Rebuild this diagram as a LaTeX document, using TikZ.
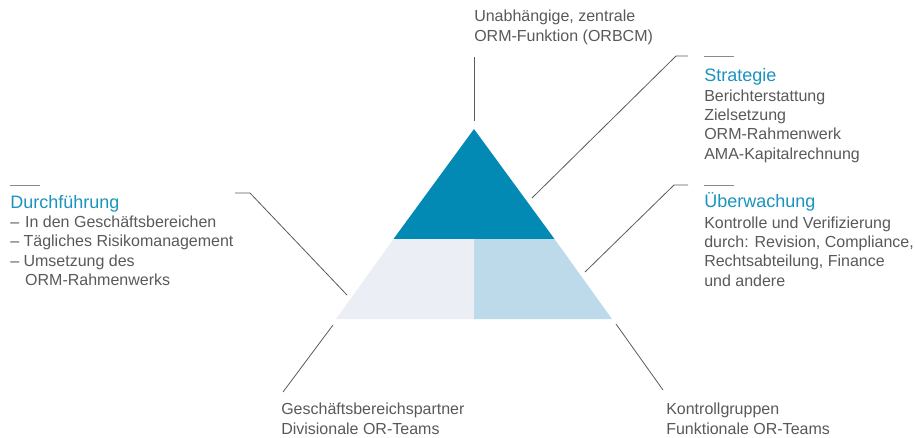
\documentclass[tikz,border=0pt]{standalone}
\usepackage{fontspec}
\setmainfont{Liberation Sans}
\definecolor{txtgray}{HTML}{595959}
\definecolor{headblue}{HTML}{1A93BE}
\definecolor{darkteal}{HTML}{028AB4}
\definecolor{lightgray}{HTML}{ECEEF6}
\definecolor{lightblue}{HTML}{BDDAEA}
\definecolor{linegray}{HTML}{5A5A5A}
\definecolor{dashgray}{HTML}{8A8A8A}
\tikzset{
  body/.style={inner sep=0pt, anchor=base west, align=left, text=txtgray,
    font=\fontsize{12}{14.5}\selectfont},
  head/.style={inner sep=0pt, anchor=base west, text=headblue,
    font=\fontsize{13.5}{16}\selectfont},
  conn/.style={draw=linegray, line width=0.6pt},
  rule/.style={draw=dashgray, line width=0.6pt},
}
\begin{document}
\begin{tikzpicture}[x=0.75pt,y=-0.75pt]
\useasboundingbox (0,0) rectangle (915,437);
% pyramid
\fill[darkteal] (474,129) -- (554.5,239) -- (393.5,239) -- cycle;
\fill[lightgray] (393.5,239) -- (474,239) -- (474,319) -- (336,319) -- cycle;
\fill[lightblue] (474,239) -- (554.5,239) -- (612,319) -- (474,319) -- cycle;
% texts (multi-line nodes: base anchor = baseline of last line)
\node[body] (top) at (474,41) {Unabhängige, zentrale\\ORM-Funktion (ORBCM)};
\node[head] (strathead) at (704,81.7) {Strategie};
\node[body] (stratbody) at (704,159.2) {Berichterstattung\\Zielsetzung\\ORM-Rahmenwerk\\AMA-Kapitalrechnung};
\node[head] (uebhead) at (704,207.7) {Überwachung};
\node[body] (uebbody) at (704,286) {Kontrolle und Verifizierung\\durch: Revision, Compliance,\\Rechtsabteilung, Finance\\und andere};
\node[head] (durchhead) at (10,208) {Durchführung};
\node[body] (durchbody) at (10,285.5) {–\hspace{4.5pt}In den Geschäftsbereichen\\– Tägliches Risikomanagement\\– Umsetzung des\\\hspace*{11.2pt}ORM-Rahmenwerks};
\node[body] (bl) at (281,434) {Geschäftsbereichspartner\\Divisionale OR-Teams};
\node[body] (br) at (666,434) {Kontrollgruppen\\Funktionale OR-Teams};
% connector anchor points
\coordinate (topA) at (474,57);
\coordinate (topB) at (474,121);
\coordinate (stA) at (532,198);
\coordinate (stB) at (676,56);
\coordinate (stC) at (688,56);
\coordinate (ueA) at (585,272);
\coordinate (ueB) at (674,185);
\coordinate (ueC) at (688,185);
\coordinate (duA) at (235,193);
\coordinate (duB) at (250,193);
\coordinate (duC) at (347,295);
\coordinate (blA) at (333,325);
\coordinate (blB) at (283,392);
\coordinate (brA) at (616,324);
\coordinate (brB) at (663,390);
\draw[conn] (topA) -- (topB);
\draw[conn] (stA) -- (stB) -- (stC);
\draw[conn] (ueA) -- (ueB) -- (ueC);
\draw[conn] (duA) -- (duB) -- (duC);
\draw[conn] (blA) -- (blB);
\draw[conn] (brA) -- (brB);
% short rules above headings
\coordinate (r1a) at (704,56.5); \coordinate (r1b) at (734,56.5);
\coordinate (r2a) at (704,185); \coordinate (r2b) at (734,185);
\coordinate (r3a) at (10,185.5); \coordinate (r3b) at (40,185.5);
\draw[rule] (r1a) -- (r1b);
\draw[rule] (r2a) -- (r2b);
\draw[rule] (r3a) -- (r3b);
\end{tikzpicture}
\end{document}
